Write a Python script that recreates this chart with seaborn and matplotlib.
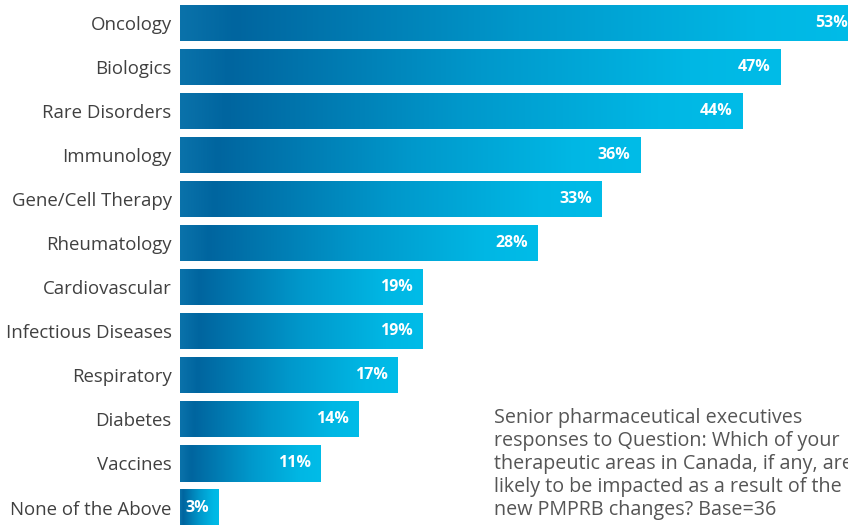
import matplotlib.pyplot as plt
import pandas as pd
import numpy as np
import seaborn as sns
from matplotlib.colors import LinearSegmentedColormap

# survey results, % of respondents
areas = ["Oncology", "Biologics", "Rare Disorders", "Immunology", "Gene/Cell Therapy",
         "Rheumatology", "Cardiovascular", "Infectious Diseases", "Respiratory",
         "Diabetes", "Vaccines", "None of the Above"]
pct = [53, 47, 44, 36, 33, 28, 19, 19, 17, 14, 11, 3]

note = ("Senior pharmaceutical executives\n"
        "responses to Question: Which of your\n"
        "therapeutic areas in Canada, if any, are\n"
        "likely to be impacted as a result of the\n"
        "new PMPRB changes? Base=36")

df = pd.DataFrame({"area": areas, "pct": pct})

sns.set_theme(style="white")
plt.rcParams['font.family'] = ['Open Sans', 'DejaVu Sans']

fig = plt.figure(figsize=(8.48, 5.25), dpi=100)
ax = fig.add_axes([180 / 848, 0, 1 - 180 / 848, 1])

sns.barplot(data=df, x="pct", y="area", orient="h", width=0.82,
            color="#0088c0", ax=ax, saturation=1)

# each bar gets its own dark-blue -> cyan gradient
cmap = LinearSegmentedColormap.from_list("blu", [
    (0.0, "#0a72aa"), (0.08, "#00659f"), (0.5, "#0098cb"),
    (0.85, "#00b7e4"), (1.0, "#00bce8")])
grad = np.linspace(0, 1, 256).reshape(1, -1)
for p in ax.patches:
    x0, y0 = p.get_x(), p.get_y()
    w, h = p.get_width(), p.get_height()
    im = ax.imshow(grad, cmap=cmap, aspect="auto", extent=[x0, x0 + w, y0 + h, y0],
                   zorder=p.get_zorder() + 0.1)
    im.set_clip_path(p)
    p.set_facecolor("none")

for i, v in enumerate(pct):
    ax.annotate(f"{v}%", (v, i), xytext=(-7, 0), textcoords="offset points",
                ha="right", va="center", color="white", fontsize=11.5,
                fontweight="bold", zorder=5, annotation_clip=False)

ax.set_xlim(0, 668 / 12.78)
ax.set_ylim(11 + 17.5 / 44.05, -23 / 44.05)
ax.set_xlabel("")
ax.set_ylabel("")
ax.set_xticks([])
ax.tick_params(axis="y", length=0, pad=6, labelsize=13.4, labelcolor="#404040")
sns.despine(ax=ax, left=True, bottom=True)

fig.text(494 / 848, 1 - 408 / 525, note, ha="left", va="top", fontsize=14.2,
         color="#555555", linespacing=1.2)

fig.savefig("out.png", dpi=100)
